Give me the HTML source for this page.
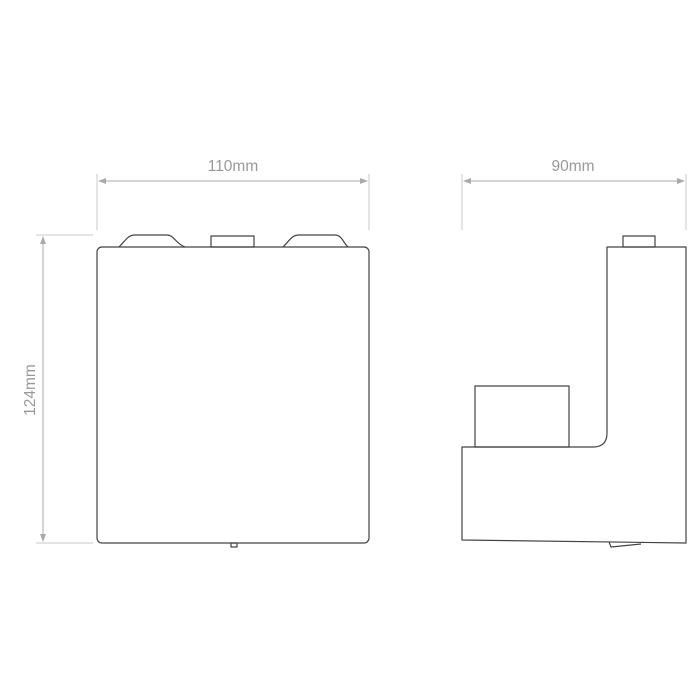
<!DOCTYPE html>
<html><head><style>body{margin:0;background:#fff}svg{display:block}</style></head><body>
<svg width="700" height="700" viewBox="0 0 700 700" xmlns="http://www.w3.org/2000/svg">
<defs><marker id="a" markerWidth="8" markerHeight="6" refX="7" refY="3" orient="auto-start-reverse" markerUnits="userSpaceOnUse"><path d="M0,0L8,3L0,6z" fill="#aaa"/></marker></defs>
<g stroke="#c8c8c8" stroke-width="1" fill="none">
<line x1="97" y1="174" x2="97" y2="230"/><line x1="369" y1="174" x2="369" y2="230"/>
<line x1="462" y1="174" x2="462" y2="230"/><line x1="686" y1="174" x2="686" y2="230"/>
<line x1="36" y1="235" x2="93" y2="235"/><line x1="36" y1="543" x2="93" y2="543"/>
</g>
<g stroke="#aaa" stroke-width="1" fill="none">
<line x1="99" y1="181" x2="367" y2="181" marker-start="url(#a)" marker-end="url(#a)"/>
<line x1="464" y1="181" x2="684" y2="181" marker-start="url(#a)" marker-end="url(#a)"/>
<line x1="43" y1="237" x2="43" y2="541" marker-start="url(#a)" marker-end="url(#a)"/>
</g>
<g font-family="Liberation Sans, sans-serif" font-size="15.5" fill="#999" text-anchor="middle">
<text x="233" y="171">110mm</text>
<text x="573" y="171">90mm</text>
<text transform="translate(35,390) rotate(-90)">124mm</text>
</g>
<g stroke="#444" stroke-width="1.2" fill="none" stroke-linejoin="round">
<path d="M119,247 C126,240 128,235 135,235 L167,235 C174,235 176,244 185,247"/>
<rect x="211" y="236" width="43" height="11"/>
<path d="M283,247 C290,240 292,235 299,235 L335,235 C342,235 344,244 348,247"/>
<rect x="97" y="247" width="272" height="296" rx="5"/>
<rect x="231" y="543" width="6" height="4"/>
<rect x="623" y="236" width="32" height="11"/>
<path d="M607,247 L686,247 L686,543 L462,540 L462,447 L593,447 Q607,447 607,433 Z"/>
<rect x="475" y="386" width="94" height="61"/>
<path d="M609,542 L611,547 L641,544"/>
</g>
</svg>
</body></html>
